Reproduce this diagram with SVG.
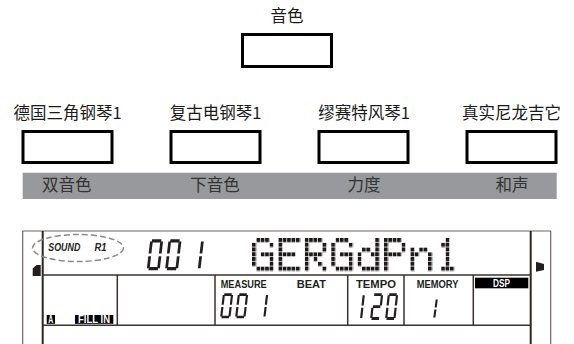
<svg xmlns="http://www.w3.org/2000/svg" xmlns:xlink="http://www.w3.org/1999/xlink" width="574" height="344" viewBox="0 0 574 344">
<style>
.lbl{font-family:"Noto Sans CJK SC","Noto Sans",sans-serif;font-size:16.5px;fill:#1a1a1a;text-anchor:middle}
.bt{font-family:"Noto Sans CJK SC","Noto Sans",sans-serif;font-size:16.5px;fill:#333;text-anchor:middle}
.box{fill:#fff;stroke:#000;stroke-width:3}
.ln{stroke:#3a3230;stroke-width:1.5;fill:none}
.ol{stroke:#6e6663;stroke-width:1.2;fill:none}
.tl{stroke:#2c2522;stroke-width:2;fill:none}
.lcd{font-family:"Liberation Sans",Arial,sans-serif;font-weight:bold;font-size:11px;fill:#231f20}
.inv{font-family:"Liberation Sans",Arial,sans-serif;font-weight:bold;font-size:10px;fill:#fff}
.seg{fill:#231f20}
</style>
<defs>
<pattern id="dm" width="1" height="1" patternUnits="userSpaceOnUse"><rect width="0.84" height="0.85" fill="#1e1a1a"/></pattern>
<g id="d0" class="seg"><rect x="1.4" y="0" width="7.2" height="2.1"/><rect x="7.9" y="1.4" width="2.1" height="7.7"/><rect x="7.9" y="10.9" width="2.1" height="7.7"/><rect x="1.4" y="17.9" width="7.2" height="2.1"/><rect x="0" y="10.9" width="2.1" height="7.7"/><rect x="0" y="1.4" width="2.1" height="7.7"/></g>
<g id="d1" class="seg"><rect x="7.9" y="1.4" width="2.1" height="7.7"/><rect x="7.9" y="10.9" width="2.1" height="7.7"/></g>
<g id="d2" class="seg"><rect x="1.4" y="0" width="7.2" height="2.1"/><rect x="7.9" y="1.4" width="2.1" height="7.7"/><rect x="1.4" y="8.95" width="7.2" height="2.1"/><rect x="0" y="10.9" width="2.1" height="7.7"/><rect x="1.4" y="17.9" width="7.2" height="2.1"/></g>
</defs>

<g id="n-top">
<text class="lbl" x="287" y="22">音色</text>
<rect class="box" x="242.5" y="34.5" width="89" height="32"/>
</g>
<g id="n-1">
<text class="lbl" x="67.5" y="119">德国三角钢琴1</text>
<rect class="box" x="23" y="131.5" width="89" height="31"/>
</g>
<g id="n-2">
<text class="lbl" x="215.5" y="119">复古电钢琴1</text>
<rect class="box" x="171" y="131.5" width="89" height="31"/>
</g>
<g id="n-3">
<text class="lbl" x="364" y="119">缪赛特风琴1</text>
<rect class="box" x="319" y="131.5" width="89" height="31"/>
</g>
<g id="n-4">
<text class="lbl" x="511.5" y="119">真实尼龙吉它</text>
<rect class="box" x="467" y="131.5" width="89" height="31"/>
</g>
<g id="bar">
<rect x="22.7" y="172.7" width="534" height="26.3" fill="#97999c"/>
<text class="bt" x="66.7" y="191">双音色</text>
<text class="bt" x="215" y="191">下音色</text>
<text class="bt" x="364" y="191">力度</text>
<text class="bt" x="512" y="191">和声</text>
</g>
<g id="connectors"/>

<g id="lcd">
<path class="ol" d="M22.7 344V231H550.7V344"/>
<path class="tl" d="M42.7 231V344M530.7 231V344"/>
<path class="ln" d="M42.7 275H530.7M42.7 325.3H530.7M117.3 275V325.3M215 275V325.3M347.7 275V325.3M404 275V325.3M473.3 275V325.3"/>
<path d="M40.7 265H36.5L32.7 268.5V276H40.7Z" fill="#231f20"/>
<path d="M536 261.7L544 264V270L536 271.7Z" fill="#231f20"/>
<ellipse cx="78" cy="248" rx="45.5" ry="13.5" fill="none" stroke="#8a8a8a" stroke-width="1.5" stroke-dasharray="6 3"/>
<text class="lcd" x="48.3" y="251" font-size="9.5" font-style="italic" textLength="32" lengthAdjust="spacingAndGlyphs">SOUND</text>
<text class="lcd" x="94.5" y="251" font-size="9.5" font-style="italic" textLength="12" lengthAdjust="spacingAndGlyphs">R1</text>
<use xlink:href="#d0" transform="translate(150.3,239.3) scale(1.3,1.55) skewX(-8)"/>
<use xlink:href="#d0" transform="translate(168.6,239.3) scale(1.3,1.55) skewX(-8)"/>
<use xlink:href="#d1" transform="translate(191,239.3) scale(1.3,1.55) skewX(-8)"/>
<g transform="translate(252,238) scale(4.4,4.76)" fill="url(#dm)">
<path d="M1 0h3v1h-3z M0 1h1v5h-1z M4 1h1v1h-1z M2 3h3v1h-3z M4 4h1v2h-1z M1 6h4v1h-4z"/>
<path d="M6 0h5v1h-5z M6 1h1v5h-1z M6 3h4v1h-4z M6 6h5v1h-5z"/>
<path d="M12 0h4v1h-4z M12 1h1v6h-1z M16 1h1v2h-1z M12 3h4v1h-4z M14 4h1v1h-1z M15 5h1v1h-1z M16 6h1v1h-1z"/>
<path d="M19 0h3v1h-3z M18 1h1v5h-1z M22 1h1v1h-1z M20 3h3v1h-3z M22 4h1v2h-1z M19 6h4v1h-4z"/>
<path d="M28 0h1v7h-1z M25 2h2v1h-2z M27 3h1v1h-1z M24 3h1v3h-1z M25 6h3v1h-3z"/>
<path d="M30 0h4v1h-4z M30 1h1v6h-1z M34 1h1v2h-1z M31 3h3v1h-3z"/>
<path d="M36 2h1v5h-1z M38 2h2v1h-2z M37 3h1v1h-1z M40 3h1v4h-1z"/>
<path d="M44 0h1v7h-1z M43 1h1v1h-1z M43 6h3v1h-3z"/>
</g>
<text class="lcd" x="220.7" y="288" textLength="46" lengthAdjust="spacingAndGlyphs">MEASURE</text>
<text class="lcd" x="296.7" y="288" textLength="29.3" lengthAdjust="spacingAndGlyphs">BEAT</text>
<text class="lcd" x="356" y="288" textLength="40" lengthAdjust="spacingAndGlyphs">TEMPO</text>
<text class="lcd" x="416.7" y="288" textLength="41.7" lengthAdjust="spacingAndGlyphs">MEMORY</text>
<rect x="475" y="277.7" width="53.3" height="10.6" fill="#000"/>
<text class="inv" x="493" y="287" textLength="17" lengthAdjust="spacingAndGlyphs">DSP</text>
<use xlink:href="#d0" transform="translate(222.9,293.3) scale(1.04,1.25) skewX(-8)"/>
<use xlink:href="#d0" transform="translate(237.9,293.3) scale(1.04,1.25) skewX(-8)"/>
<use xlink:href="#d1" transform="translate(257.9,293.3) scale(1.04,1.25) skewX(-8)"/>
<use xlink:href="#d1" transform="translate(354.6,293.3) scale(1.04,1.33) skewX(-8)"/>
<use xlink:href="#d2" transform="translate(372.9,293.3) scale(1.04,1.33) skewX(-8)"/>
<use xlink:href="#d0" transform="translate(387.9,293.3) scale(1.04,1.33) skewX(-8)"/>
<use xlink:href="#d1" transform="translate(428,298) scale(1,1.05) skewX(-8)"/>
<rect x="46.7" y="315" width="8.3" height="8.8" fill="#000"/>
<text class="inv" x="48.3" y="322.8" font-size="9" textLength="5" lengthAdjust="spacingAndGlyphs">A</text>
<rect x="75" y="315" width="38.3" height="8.8" fill="#000"/>
<text class="inv" x="78" y="322.8" font-size="9" textLength="32" lengthAdjust="spacingAndGlyphs">FILL IN</text>
</g>
</svg>
